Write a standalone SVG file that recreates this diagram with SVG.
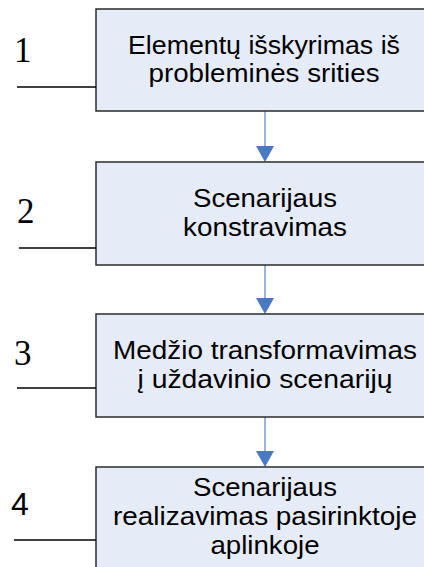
<svg xmlns="http://www.w3.org/2000/svg" width="424" height="567" viewBox="0 0 424 567">
  <style>
    .box { fill: #E6ECF7; stroke: #2b2b2b; stroke-width: 1.5; }
    .lbl { font-family: "Liberation Sans", Arial, sans-serif; font-size: 25px; fill: #000; text-anchor: middle; }
    .num { font-family: "Liberation Serif", "Times New Roman", serif; font-size: 35px; fill: #000; }
    .num4 { font-family: "Liberation Sans", Arial, sans-serif; font-size: 32px; fill: #000; }
    .tick { stroke: #000; stroke-width: 1.6; }
    .flow { stroke: #7FA3D6; stroke-width: 1.6; fill: none; }
    .head { fill: #4A78C4; }
  </style>

  <!-- step connectors -->
  <g id="connectors">
    <line class="flow" x1="265" y1="111" x2="265" y2="147"/>
    <polygon class="head" points="256,146 274,146 265,162"/>
    <line class="flow" x1="265" y1="265" x2="265" y2="299"/>
    <polygon class="head" points="256,298 274,298 265,314"/>
    <line class="flow" x1="265" y1="417" x2="265" y2="452"/>
    <polygon class="head" points="256,451 274,451 265,467"/>
  </g>

  <g id="step1">
    <rect class="box" x="96" y="9" width="338" height="102"/>
    <text class="lbl" x="264" y="54" textLength="272" lengthAdjust="spacingAndGlyphs">Elementų išskyrimas iš</text>
    <text class="lbl" x="264" y="82" textLength="231" lengthAdjust="spacingAndGlyphs">probleminės srities</text>
    <line class="tick" x1="17" y1="87" x2="96" y2="87"/>
    <text class="num" x="14" y="62">1</text>
  </g>

  <g id="step2">
    <rect class="box" x="96" y="162" width="338" height="103"/>
    <text class="lbl" x="265" y="207" textLength="144" lengthAdjust="spacingAndGlyphs">Scenarijaus</text>
    <text class="lbl" x="265" y="236" textLength="164" lengthAdjust="spacingAndGlyphs">konstravimas</text>
    <line class="tick" x1="19" y1="248" x2="96" y2="248"/>
    <text class="num" x="17" y="223">2</text>
  </g>

  <g id="step3">
    <rect class="box" x="96" y="314" width="338" height="103"/>
    <text class="lbl" x="265" y="359" textLength="304" lengthAdjust="spacingAndGlyphs">Medžio transformavimas</text>
    <text class="lbl" x="265" y="388" textLength="255" lengthAdjust="spacingAndGlyphs">į uždavinio scenarijų</text>
    <line class="tick" x1="17" y1="388" x2="96" y2="388"/>
    <text class="num" x="14" y="365">3</text>
  </g>

  <g id="step4">
    <rect class="box" x="96" y="467" width="338" height="120"/>
    <text class="lbl" x="265" y="496" textLength="144" lengthAdjust="spacingAndGlyphs">Scenarijaus</text>
    <text class="lbl" x="265" y="525" textLength="304" lengthAdjust="spacingAndGlyphs">realizavimas pasirinktoje</text>
    <text class="lbl" x="265" y="554" textLength="109" lengthAdjust="spacingAndGlyphs">aplinkoje</text>
    <line class="tick" x1="14" y1="540" x2="96" y2="540"/>
    <text class="num4" x="11" y="515">4</text>
  </g>
</svg>
